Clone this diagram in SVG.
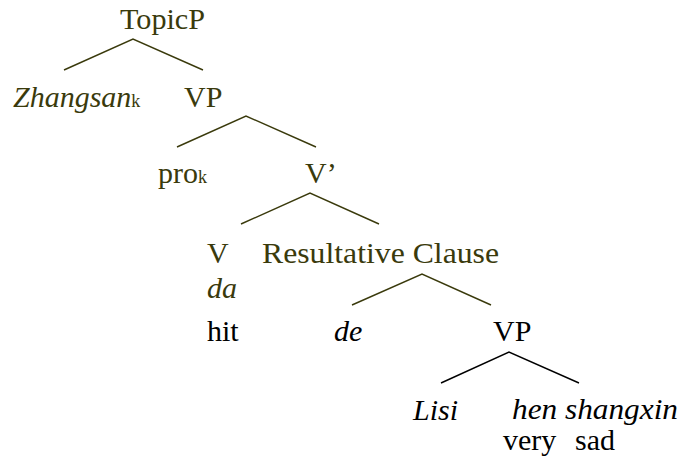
<svg xmlns="http://www.w3.org/2000/svg" width="683" height="465" viewBox="0 0 683 465">
<style>
text{font-family:"Times New Roman",Times,Tinos,"Liberation Serif","DejaVu Serif","Noto Serif",serif;font-size:30px}
.o{fill:#3a3a0c}
.k{fill:#000}
.i{font-style:italic}
.s{font-size:18px}
.lo{stroke:#3a3a0c;stroke-width:1.4;fill:none}
.lk{stroke:#000;stroke-width:1.4;fill:none}
</style>
<rect width="683" height="465" fill="#fff"/>
<g id="connectors">
<polyline class="lo" points="64,70 133,39 203,70"/>
<polyline class="lo" points="177,147 246,116 316,147"/>
<polyline class="lo" points="241,224 310,193 379,224"/>
<polyline class="lo" points="352,305 422,274 491,305"/>
<polyline class="lk" points="441,383 509,352 579,383"/>
</g>
<g id="topicp"><text class="o" x="120" y="29" textLength="85" lengthAdjust="spacingAndGlyphs">TopicP</text></g>
<g id="zhangsan"><text class="o" x="13" y="107"><tspan class="i">Zhangsan</tspan><tspan class="s">k</tspan></text></g>
<g id="vp1"><text class="o" x="184" y="107">VP</text></g>
<g id="pro"><text class="o" x="158" y="183">pro<tspan class="s">k</tspan></text></g>
<g id="vbar"><text class="o" x="305" y="183">V’</text></g>
<g id="v"><text class="o" x="207" y="263">V</text><text class="o i" x="207" y="298">da</text><text class="k" x="207" y="341">hit</text></g>
<g id="rc"><text class="o" x="262" y="263" textLength="237" lengthAdjust="spacingAndGlyphs">Resultative Clause</text></g>
<g id="de"><text class="k i" x="334" y="341">de</text></g>
<g id="vp2"><text class="k" x="493" y="341">VP</text></g>
<g id="lisi"><text class="k i" x="413" y="420">Lisi</text></g>
<g id="hen"><text class="k i" x="512" y="419" textLength="166" lengthAdjust="spacingAndGlyphs">hen shangxin</text><text class="k" x="503" y="450">very</text><text class="k" x="575" y="450">sad</text></g>
</svg>
